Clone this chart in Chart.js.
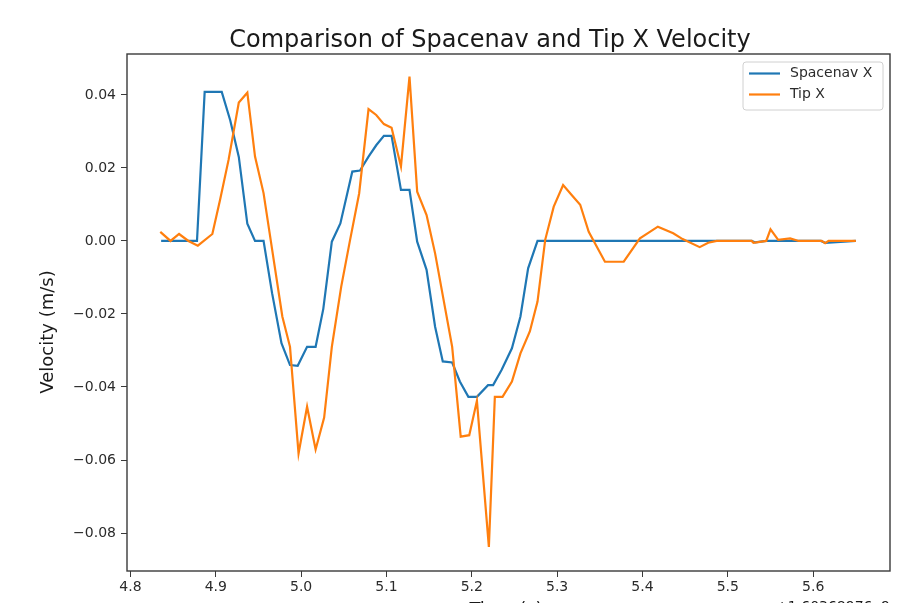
<!DOCTYPE html>
<html>
<head>
<meta charset="utf-8">
<script src="https://cdn.jsdelivr.net/npm/chart.js@4.4.1/dist/chart.umd.min.js"></script>
<style>
  body { margin: 0; background: #fff; }
  #velChart { display: block; }
</style>
</head>
<body>
<canvas id="velChart" width="910" height="603"></canvas>
<script>
// time (s, offset +1.60368976e9) and velocity (m/s)
var spacenavT = [4.836, 4.878, 4.887, 4.907, 4.917, 4.927, 4.937, 4.946, 4.956, 4.966,
                 4.977, 4.987, 4.996, 5.007, 5.017, 5.026, 5.036, 5.046, 5.060, 5.069,
                 5.079, 5.088, 5.097, 5.106, 5.117, 5.127, 5.136, 5.147, 5.157, 5.166,
                 5.177, 5.186, 5.196, 5.206, 5.219, 5.225, 5.235, 5.247, 5.257, 5.266,
                 5.277, 5.528, 5.532, 5.545, 5.609, 5.614, 5.650];
var spacenavV = [0, 0, 0.0408, 0.0408, 0.033, 0.023, 0.0047, 0, 0, -0.0143,
                 -0.028, -0.034, -0.0342, -0.029, -0.029, -0.0186, -0.0002, 0.0048, 0.019, 0.0193,
                 0.0231, 0.0262, 0.0288, 0.0288, 0.014, 0.014, -0.0002, -0.0079, -0.0235, -0.033,
                 -0.0333, -0.0385, -0.0427, -0.0427, -0.0395, -0.0395, -0.0353, -0.0294, -0.0207, -0.0075,
                 0, 0, -0.0004, 0, 0, -0.0005, 0];

var tipT = [4.835, 4.847, 4.857, 4.868, 4.879, 4.896, 4.905, 4.915, 4.927, 4.937,
            4.946, 4.956, 4.967, 4.978, 4.987, 4.997, 5.007, 5.017, 5.027, 5.036,
            5.047, 5.057, 5.068, 5.079, 5.088, 5.097, 5.106, 5.117, 5.127, 5.136,
            5.147, 5.157, 5.167, 5.177, 5.187, 5.197, 5.206, 5.220, 5.227, 5.236,
            5.247, 5.257, 5.268, 5.277, 5.286, 5.296, 5.307, 5.317, 5.327, 5.337,
            5.356, 5.378, 5.397, 5.418, 5.436, 5.447, 5.467, 5.477, 5.487, 5.528,
            5.530, 5.545, 5.550, 5.559, 5.573, 5.583, 5.610, 5.614, 5.618, 5.650];
var tipV = [0.0025, 0, 0.0019, 0, -0.0013, 0.0019, 0.0112, 0.0222, 0.0379, 0.0406,
            0.0231, 0.0131, -0.0038, -0.0207, -0.029, -0.0582, -0.0454, -0.0571, -0.0484, -0.029,
            -0.0125, -0.0002, 0.013, 0.0361, 0.0345, 0.032, 0.031, 0.0204, 0.045, 0.0135,
            0.0071, -0.0034, -0.0162, -0.029, -0.0536, -0.0532, -0.0438, -0.0838, -0.0427, -0.0427,
            -0.0385, -0.0308, -0.0248, -0.0166, 0.0003, 0.0094, 0.0153, 0.0126, 0.0099, 0.0025,
            -0.0057, -0.0057, 0.0007, 0.0039, 0.0021, 0.0005, -0.0017, -0.0005, 0, 0,
            -0.0005, 0, 0.0032, 0.0003, 0.0007, 0, 0, -0.0006, 0, 0];

var seriesNames = ['Spacenav X', 'Tip X'];
var seriesColors = ['#1f77b4', '#ff7f0e'];
var xTicks = [4.8, 4.9, 5.0, 5.1, 5.2, 5.3, 5.4, 5.5, 5.6];
var yTicks = [0.04, 0.02, 0.00, -0.02, -0.04, -0.06, -0.08];

function pairs(ts, vs) {
  return ts.map(function (t, i) { return { x: t, y: vs[i] }; });
}

var FONT = "'DejaVu Sans', sans-serif";
var INK = '#2b2b2b';

// spines, title, y label, inner legend and the clipped bottom labels
var framePlugin = {
  id: 'frame',
  afterDraw: function (chart) {
    var ctx = chart.ctx, a = chart.chartArea;
    ctx.save();
    ctx.strokeStyle = '#3a3a3a';
    ctx.lineWidth = 1.4;
    ctx.strokeRect(a.left, a.top, a.right - a.left, a.bottom - a.top);

    ctx.fillStyle = '#1a1a1a';
    ctx.font = '24px ' + FONT;
    ctx.textAlign = 'center';
    ctx.textBaseline = 'alphabetic';
    ctx.fillText('Comparison of Spacenav and Tip X Velocity', 490, 47);

    ctx.save();
    ctx.translate(53, 332);
    ctx.rotate(-Math.PI / 2);
    ctx.font = '18px ' + FONT;
    ctx.fillText('Velocity (m/s)', 0, 0);
    ctx.restore();

    // legend box
    var bx = 743, by = 62, bw = 140, bh = 48;
    ctx.fillStyle = 'rgba(255,255,255,0.85)';
    ctx.strokeStyle = '#d0d0d0';
    ctx.lineWidth = 1;
    ctx.beginPath();
    ctx.roundRect(bx, by, bw, bh, 3);
    ctx.fill();
    ctx.stroke();
    ctx.font = '14px ' + FONT;
    ctx.textBaseline = 'middle';
    ctx.textAlign = 'left';
    for (var i = 0; i < seriesNames.length; i++) {
      var ly = 73.5 + i * 21;
      ctx.strokeStyle = seriesColors[i];
      ctx.lineWidth = 2.2;
      ctx.beginPath();
      ctx.moveTo(749, ly);
      ctx.lineTo(780, ly);
      ctx.stroke();
      ctx.fillStyle = INK;
      ctx.fillText(seriesNames[i], 790, ly);
    }

    // x label and offset text, cut by the bottom edge as in the source
    ctx.fillStyle = '#1a1a1a';
    ctx.font = '18px ' + FONT;
    ctx.textBaseline = 'top';
    ctx.textAlign = 'center';
    ctx.fillText('Time (s)', 506, 601);
    ctx.font = '14px ' + FONT;
    ctx.textAlign = 'right';
    ctx.fillText('+1.60368976e9', a.right, 600);
    ctx.restore();
  }
};

var ctx = document.getElementById('velChart').getContext('2d');
var chart = new Chart(ctx, {
  type: 'line',
  data: {
    datasets: [{
      label: seriesNames[0],
      data: pairs(spacenavT, spacenavV),
      borderColor: seriesColors[0],
      borderWidth: 2.2,
      pointRadius: 0,
      tension: 0,
      order: 1
    }, {
      label: seriesNames[1],
      data: pairs(tipT, tipV),
      borderColor: seriesColors[1],
      borderWidth: 2.2,
      pointRadius: 0,
      tension: 0,
      order: 0
    }]
  },
  options: {
    responsive: false,
    animation: false,
    layout: { padding: { left: 0, right: 20, top: 54, bottom: 0 } },
    plugins: {
      legend: { display: false },
      tooltip: { enabled: false },
      title: { display: false }
    },
    scales: {
      x: {
        type: 'linear',
        min: 4.796,
        max: 5.690,
        afterBuildTicks: function (s) { s.ticks = xTicks.map(function (v) { return { value: v }; }); },
        afterFit: function (s) { s.height = 32; },
        ticks: {
          color: INK,
          font: { family: FONT, size: 14 },
          padding: 2,
          maxRotation: 0,
          autoSkip: false,
          callback: function (v) { return v.toFixed(1); }
        },
        grid: { drawOnChartArea: false, drawTicks: true, tickLength: 6, color: '#3a3a3a' },
        border: { display: false }
      },
      y: {
        type: 'linear',
        min: -0.0904,
        max: 0.0512,
        afterBuildTicks: function (s) { s.ticks = yTicks.map(function (v) { return { value: v }; }); },
        afterFit: function (s) { s.width = 127; },
        ticks: {
          color: INK,
          font: { family: FONT, size: 14 },
          padding: 5,
          autoSkip: false,
          callback: function (v) { return v.toFixed(2).replace('-', '\u2212'); }
        },
        grid: { drawOnChartArea: false, drawTicks: true, tickLength: 6, color: '#3a3a3a' },
        border: { display: false }
      }
    }
  },
  plugins: [framePlugin]
});
</script>
</body>
</html>
